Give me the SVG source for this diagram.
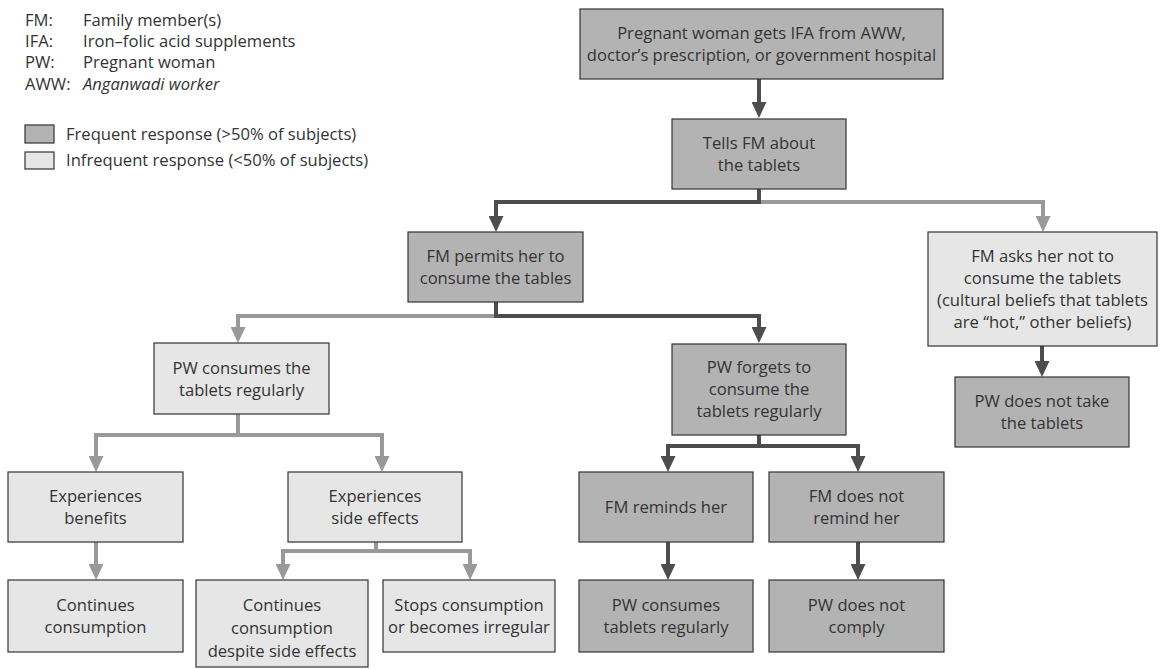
<svg xmlns="http://www.w3.org/2000/svg" width="1162" height="669" viewBox="0 0 1162 669">
<style>
text{font-family:"Open Sans","Noto Sans","Liberation Sans",sans-serif;font-size:16.6px;fill:#333;}
.c{text-anchor:middle;}
.f{fill:#b3b3b3;stroke:#333;stroke-width:1.2;}
.i{fill:#e6e6e6;stroke:#333;stroke-width:1.2;}
.d{fill:none;stroke:#4d4d4d;stroke-width:4;}
.l{fill:none;stroke:#999;stroke-width:4;}
</style>
<defs>
<marker id="ad" markerUnits="userSpaceOnUse" viewBox="0 0 16 15" markerWidth="16" markerHeight="15" refX="4" refY="7.5" orient="auto"><path d="M0,0 L16,7.5 L0,15 Z" fill="#4d4d4d"/></marker>
<marker id="al" markerUnits="userSpaceOnUse" viewBox="0 0 16 15" markerWidth="16" markerHeight="15" refX="4" refY="7.5" orient="auto"><path d="M0,0 L16,7.5 L0,15 Z" fill="#999"/></marker>
</defs>
<rect width="1162" height="669" fill="#fff"/>
<g id="legend">
<text x="25" y="26">FM:</text><text x="83" y="26">Family member(s)</text>
<text x="25" y="47">IFA:</text><text x="83" y="47">Iron–folic acid supplements</text>
<text x="25" y="68">PW:</text><text x="83" y="68">Pregnant woman</text>
<text x="25" y="90">AWW:</text><text x="83" y="90" font-style="italic">Anganwadi worker</text>
<rect class="f" x="25" y="125" width="29" height="18"/>
<text x="66" y="140">Frequent response (&gt;50% of subjects)</text>
<rect class="i" x="25" y="152" width="29" height="17"/>
<text x="66" y="166">Infrequent response (&lt;50% of subjects)</text>
</g>
<g id="connectors">
<path class="d" d="M759,79 V106" marker-end="url(#ad)"/>
<path class="l" d="M759,202 H1043 V220" marker-end="url(#al)"/>
<path class="d" d="M759,189 V202 H496 V220" marker-end="url(#ad)"/>
<path class="l" d="M496,316 H238 V331" marker-end="url(#al)"/>
<path class="d" d="M496,302 V316 H759 V331" marker-end="url(#ad)"/>
<path class="d" d="M1042,346 V365" marker-end="url(#ad)"/>
<path class="l" d="M238,414 V435 H96 V460" marker-end="url(#al)"/>
<path class="l" d="M238,435 H382 V460" marker-end="url(#al)"/>
<path class="d" d="M759,435 V446 H668 V460" marker-end="url(#ad)"/>
<path class="d" d="M759,446 H858 V460" marker-end="url(#ad)"/>
<path class="l" d="M96,542 V568" marker-end="url(#al)"/>
<path class="l" d="M376,542 V551 H283 V568" marker-end="url(#al)"/>
<path class="l" d="M376,551 H470 V568" marker-end="url(#al)"/>
<path class="d" d="M668,542 V568" marker-end="url(#ad)"/>
<path class="d" d="M858,542 V568" marker-end="url(#ad)"/>
</g>
<g id="n1"><rect class="f" x="580" y="9" width="363" height="70"/><text class="c" x="761.5" y="39">Pregnant woman gets IFA from AWW,</text><text class="c" x="761.5" y="61">doctor’s prescription, or government hospital</text></g>
<g id="n2"><rect class="f" x="672" y="119" width="174" height="70"/><text class="c" x="759" y="149">Tells FM about</text><text class="c" x="759" y="171">the tablets</text></g>
<g id="n3"><rect class="f" x="408" y="232" width="175" height="70"/><text class="c" x="495.5" y="262">FM permits her to</text><text class="c" x="495.5" y="284">consume the tables</text></g>
<g id="n4"><rect class="i" x="928" y="232" width="229" height="114"/><text class="c" x="1042.5" y="262">FM asks her not to</text><text class="c" x="1042.5" y="284">consume the tablets</text><text class="c" x="1042.5" y="306">(cultural beliefs that tablets</text><text class="c" x="1042.5" y="328">are “hot,” other beliefs)</text></g>
<g id="n5"><rect class="f" x="955" y="377" width="174" height="70"/><text class="c" x="1042" y="407">PW does not take</text><text class="c" x="1042" y="429">the tablets</text></g>
<g id="n6"><rect class="i" x="154" y="343" width="175" height="71"/><text class="c" x="241.5" y="373.5">PW consumes the</text><text class="c" x="241.5" y="395.5">tablets regularly</text></g>
<g id="n7"><rect class="f" x="672" y="344" width="174" height="91"/><text class="c" x="759" y="373">PW forgets to</text><text class="c" x="759" y="395">consume the</text><text class="c" x="759" y="417">tablets regularly</text></g>
<g id="n8"><rect class="i" x="8" y="472" width="175" height="70"/><text class="c" x="95.5" y="502">Experiences</text><text class="c" x="95.5" y="524">benefits</text></g>
<g id="n9"><rect class="i" x="288" y="472" width="174" height="70"/><text class="c" x="375" y="502">Experiences</text><text class="c" x="375" y="524">side effects</text></g>
<g id="n10"><rect class="f" x="579" y="472" width="174" height="70"/><text class="c" x="666" y="513">FM reminds her</text></g>
<g id="n11"><rect class="f" x="769" y="472" width="175" height="70"/><text class="c" x="856.5" y="502">FM does not</text><text class="c" x="856.5" y="524">remind her</text></g>
<g id="n12"><rect class="i" x="8" y="580" width="175" height="72"/><text class="c" x="95.5" y="611">Continues</text><text class="c" x="95.5" y="633">consumption</text></g>
<g id="n13"><rect class="i" x="196" y="580" width="172" height="87"/><text class="c" x="282" y="611">Continues</text><text class="c" x="282" y="634">consumption</text><text class="c" x="282" y="657">despite side effects</text></g>
<g id="n14"><rect class="i" x="383" y="580" width="172" height="72"/><text class="c" x="469" y="611">Stops consumption</text><text class="c" x="469" y="633">or becomes irregular</text></g>
<g id="n15"><rect class="f" x="579" y="580" width="174" height="72"/><text class="c" x="666" y="611">PW consumes</text><text class="c" x="666" y="633">tablets regularly</text></g>
<g id="n16"><rect class="f" x="769" y="580" width="175" height="72"/><text class="c" x="856.5" y="611">PW does not</text><text class="c" x="856.5" y="633">comply</text></g>
</svg>
